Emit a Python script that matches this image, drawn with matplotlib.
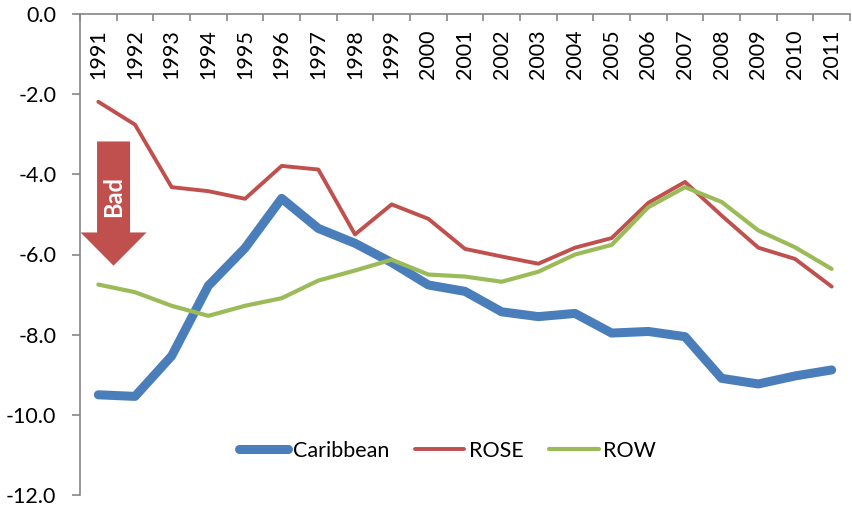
import matplotlib.pyplot as plt
from matplotlib.patches import FancyArrow

years = list(range(1991, 2012))
caribbean = [-9.50, -9.54, -8.53, -6.78, -5.84, -4.60, -5.35, -5.72, -6.20, -6.76,
             -6.92, -7.43, -7.55, -7.47, -7.96, -7.92, -8.05, -9.09, -9.23, -9.03, -8.88]
rose = [-2.19, -2.76, -4.32, -4.42, -4.61, -3.79, -3.88, -5.50, -4.75, -5.11,
        -5.86, -6.05, -6.23, -5.83, -5.59, -4.71, -4.19, -5.03, -5.83, -6.11, -6.80]
row = [-6.75, -6.94, -7.28, -7.53, -7.28, -7.09, -6.65, -6.40, -6.13, -6.50,
       -6.55, -6.68, -6.43, -6.00, -5.76, -4.82, -4.32, -4.69, -5.40, -5.82, -6.36]

BLUE = '#4A7EBB'
RED = '#C0504D'
GREEN = '#9BBB59'
GREY = '#868686'
FS = 15.5

plt.rcParams['font.family'] = ['Lato', 'DejaVu Sans']

fig = plt.figure(figsize=(8.52, 5.08), dpi=100)
ax = fig.add_axes([80 / 852, 1 - 495 / 508, 770 / 852, 481 / 508])

x = list(range(len(years)))
ax.plot(x, caribbean, color=BLUE, lw=6.5, label='Caribbean', solid_capstyle='round')
ax.plot(x, rose, color=RED, lw=2.8, label='ROSE', solid_capstyle='round')
ax.plot(x, row, color=GREEN, lw=3.0, label='ROW', solid_capstyle='round')

ax.set_xlim(-0.5, len(years) - 0.5)
ax.set_ylim(-12, 0)

# axes: left + top spines only
for side in ['right', 'bottom']:
    ax.spines[side].set_visible(False)
for side in ['left', 'top']:
    ax.spines[side].set_color(GREY)
    ax.spines[side].set_linewidth(1.2)

ax.set_yticks(range(-12, 1, 2))
ax.set_yticklabels([f"{v:.1f}" for v in range(-12, 1, 2)])
ax.tick_params(axis='y', direction='out', length=6, width=1.2, color=GREY,
               labelsize=FS, pad=11)

# category boundary ticks on the top axis, pointing down
ax.set_xticks([i - 0.5 for i in range(len(years) + 1)])
ax.set_xticklabels([])
ax.tick_params(axis='x', top=True, bottom=False, labeltop=False, labelbottom=False,
               direction='in', length=5, width=1.2, color=GREY)

for i, yr in enumerate(years):
    ax.text(i, -0.38, str(yr), rotation=90, ha='center', va='top', fontsize=FS)

# "Bad" arrow
arrow = FancyArrow(0.415, -3.18, 0, -3.1, width=0.9, head_width=1.8,
                   head_length=0.83, length_includes_head=True,
                   color=RED, ec='none', clip_on=False)
ax.add_patch(arrow)
ax.text(0.43, -4.55, 'Bad', rotation=90, ha='center', va='center',
        color='white', fontsize=17, fontweight='bold')

ax.legend(loc='center', bbox_to_anchor=(0.477, 0.092), ncol=3, frameon=False,
          fontsize=FS, handlelength=2.3, handletextpad=0.2, columnspacing=1.2)

fig.savefig('out.png', dpi=100)
